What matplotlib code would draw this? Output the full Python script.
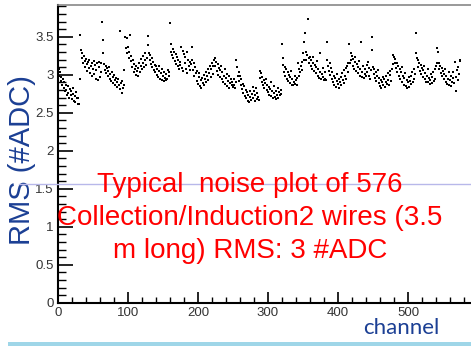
import numpy as np
import matplotlib
matplotlib.use('Agg')
import matplotlib.pyplot as plt
from matplotlib.ticker import MultipleLocator, FuncFormatter

# RMS noise per channel in groups of 32 channels
rms_g00 = [3.24, 3.08, 2.98, 3.04, 2.92, 2.97, 2.86, 2.95, 2.82, 2.90, 2.78, 2.87, 2.80, 2.74, 2.85, 2.76,
           2.70, 2.81, 2.73, 2.78, 2.68, 2.75, 2.82, 2.66, 2.72, 2.64, 2.77, 2.69, 2.62, 2.70, 2.61, 2.95]
rms_g01 = [3.52, 3.32, 3.22, 3.28, 3.15, 3.25, 3.18, 3.10, 3.21, 3.14, 3.05, 3.17, 3.09, 3.19, 3.02, 3.12,
           3.16, 2.98, 3.08, 3.18, 3.01, 3.13, 2.95, 3.06, 3.15, 2.93, 3.10, 3.17, 2.97, 3.04, 3.16, 3.69]
rms_g02 = [3.46, 3.28, 3.14, 3.06, 3.12, 3.02, 3.09, 2.98, 3.05, 3.10, 2.95, 3.01, 2.92, 3.04, 2.97, 2.89,
           3.00, 2.93, 2.86, 2.96, 2.90, 2.84, 2.94, 2.87, 2.81, 3.57, 2.89, 2.76, 2.92, 2.83, 2.86, 3.06]
rms_g03 = [3.50, 3.35, 3.48, 3.28, 3.36, 3.22, 3.30, 3.52, 3.18, 3.25, 3.10, 3.20, 3.04, 3.14, 3.08, 3.00,
           3.12, 3.05, 2.98, 3.09, 3.16, 3.03, 3.11, 3.21, 3.07, 3.15, 3.25, 3.10, 3.19, 3.28, 3.13, 3.22]
rms_g04 = [3.51, 3.39, 3.28, 3.20, 3.26, 3.14, 3.22, 3.10, 3.17, 3.06, 3.13, 3.03, 3.11, 3.00, 3.08, 2.97,
           3.05, 3.12, 2.95, 3.02, 2.93, 3.07, 2.98, 2.92, 3.04, 2.96, 2.93, 3.01, 2.95, 3.06, 2.99, 3.03]
rms_g05 = [3.68, 3.30, 3.41, 3.26, 3.34, 3.22, 3.30, 3.18, 3.27, 3.14, 3.24, 3.11, 3.20, 3.08, 3.17, 3.13,
           3.36, 3.09, 3.31, 3.05, 3.27, 3.15, 3.23, 3.08, 3.30, 3.02, 3.20, 3.12, 3.17, 3.06, 3.14, 3.36]
rms_g06 = [3.20, 3.06, 3.15, 2.98, 3.10, 3.02, 2.92, 3.05, 2.88, 2.97, 3.02, 2.85, 2.93, 2.82, 2.96, 2.89,
           3.00, 2.86, 2.94, 3.04, 2.90, 2.98, 3.08, 2.93, 3.02, 3.12, 2.97, 3.07, 3.16, 3.01, 3.11, 3.20]
rms_g07 = [3.22, 3.12, 3.17, 3.05, 3.14, 3.00, 3.09, 2.97, 3.06, 3.11, 2.94, 3.03, 2.91, 2.99, 3.07, 2.88,
           2.96, 2.85, 3.01, 2.92, 2.83, 2.98, 2.89, 2.94, 2.86, 2.91, 2.84, 2.95, 2.87, 2.82, 2.90, 3.19]
rms_g08 = [3.10, 2.98, 3.04, 2.92, 2.99, 2.86, 2.94, 2.81, 2.88, 2.76, 2.85, 2.72, 2.80, 2.69, 2.77, 2.66,
           2.73, 2.64, 2.71, 2.79, 2.67, 2.75, 2.84, 2.70, 2.78, 2.65, 2.74, 2.82, 2.68, 2.76, 2.71, 2.67]
rms_g09 = [3.05, 2.96, 3.02, 2.91, 2.97, 2.86, 2.93, 2.83, 2.89, 2.95, 2.80, 2.87, 2.77, 2.84, 2.74, 2.81,
           2.90, 2.72, 2.79, 2.69, 2.76, 2.85, 2.71, 2.78, 2.68, 2.74, 2.82, 2.70, 2.77, 2.73, 2.80, 2.75]
rms_g10 = [3.41, 3.22, 3.13, 3.04, 3.10, 2.99, 3.07, 2.95, 3.03, 2.92, 3.00, 2.89, 2.97, 3.05, 2.87, 2.94,
           2.86, 2.91, 2.98, 2.88, 2.93, 2.86, 2.96, 3.15, 2.99, 3.07, 3.03, 3.12, 3.06, 3.17, 3.28, 3.20]
rms_g11 = [3.43, 3.55, 3.30, 3.19, 3.26, 3.74, 3.22, 3.15, 3.24, 3.11, 3.19, 3.08, 3.16, 3.23, 3.05, 3.13,
           3.02, 3.10, 3.18, 2.99, 3.07, 2.96, 3.28, 3.04, 2.94, 3.01, 3.09, 2.97, 2.93, 3.03, 2.95, 2.93]
rms_g12 = [3.20, 3.43, 3.12, 3.05, 3.15, 3.00, 3.09, 2.95, 3.04, 2.90, 2.99, 2.86, 2.96, 2.84, 2.92, 3.01,
           2.88, 2.94, 2.83, 2.91, 2.97, 2.87, 3.02, 2.93, 3.06, 2.89, 2.98, 3.09, 2.95, 3.12, 3.03, 3.15]
rms_g13 = [3.41, 3.15, 3.28, 3.19, 3.25, 3.12, 3.21, 3.08, 3.17, 3.24, 3.05, 3.14, 3.02, 3.10, 3.18, 2.99,
           3.07, 3.43, 2.97, 3.04, 3.11, 2.96, 3.01, 3.08, 2.98, 3.13, 3.03, 3.17, 2.99, 3.09, 2.95, 3.06]
rms_g14 = [3.50, 3.33, 3.10, 3.01, 3.07, 2.96, 3.04, 2.92, 2.99, 3.06, 2.89, 2.96, 2.85, 2.93, 2.83, 2.90,
           2.97, 2.86, 2.94, 2.84, 2.91, 2.99, 2.88, 3.02, 2.93, 2.87, 3.00, 3.05, 2.92, 3.08, 3.26, 3.14]
rms_g15 = [3.23, 3.16, 3.21, 3.09, 3.15, 3.04, 3.11, 2.99, 3.07, 2.95, 3.03, 3.10, 2.91, 2.99, 2.87, 2.96,
           3.02, 2.85, 2.93, 2.82, 2.90, 2.97, 2.84, 2.92, 2.88, 2.98, 3.04, 2.91, 3.08, 2.95, 3.01, 3.55]
rms_g16 = [3.28, 3.22, 3.19, 3.10, 3.16, 3.05, 3.13, 3.01, 3.09, 2.97, 3.06, 3.12, 2.94, 3.02, 2.91, 2.99,
           3.07, 2.90, 2.96, 2.88, 2.93, 3.01, 2.89, 2.97, 3.04, 2.92, 3.08, 2.95, 3.11, 3.15, 3.35, 3.30]
rms_g17 = [3.15, 3.07, 3.12, 3.02, 3.09, 2.98, 3.05, 2.94, 3.01, 3.08, 2.91, 2.98, 2.88, 2.95, 3.03, 2.87,
           2.93, 2.85, 2.99, 2.90, 2.96, 3.04, 2.89, 3.17, 2.97, 2.79, 3.06, 2.93, 3.10, 3.01, 3.20, 3.18]

groups = [rms_g00, rms_g01, rms_g02, rms_g03, rms_g04, rms_g05, rms_g06, rms_g07, rms_g08,
          rms_g09, rms_g10, rms_g11, rms_g12, rms_g13, rms_g14, rms_g15, rms_g16, rms_g17]
rms = np.concatenate(groups)
channel = np.arange(len(rms))

y_ticks = [0, 0.5, 1, 1.5, 2, 2.5, 3, 3.5]
x_ticks = [0, 100, 200, 300, 400, 500]

note = ("Typical  noise plot of 576\n"
        "Collection/Induction2 wires (3.5\n"
        "m long) RMS: 3 #ADC")

plt.rcParams['font.family'] = ['Liberation Sans', 'DejaVu Sans']

fig = plt.figure(figsize=(4.71, 3.46), dpi=100)
ax = fig.add_axes([0.123, 0.125, 0.877, 0.861])

ax.plot(channel, rms, 's', color='black', markersize=2.0, markeredgewidth=0)

ax.set_xlim(0, 590)
ax.set_ylim(0, 3.92)
ax.set_yticks(y_ticks)
ax.set_xticks(x_ticks)
ax.yaxis.set_minor_locator(MultipleLocator(0.1))
ax.xaxis.set_minor_locator(MultipleLocator(20))
ax.yaxis.set_major_formatter(FuncFormatter(lambda v, p: f'{v:g}'))

ax.tick_params(which='both', direction='in', colors='black', labelcolor='#333333',
               labelsize=9.5, top=False, right=False)
ax.tick_params(axis='y', which='major', length=11, width=1.2, pad=3)
ax.tick_params(axis='y', which='minor', length=5.5, width=1.0)
ax.tick_params(axis='x', which='major', length=8, width=1.2, pad=3)
ax.tick_params(axis='x', which='minor', length=4, width=1.0)

ax.spines['left'].set_linewidth(1.5)
ax.spines['bottom'].set_linewidth(1.5)
ax.spines['top'].set_color('#888888')
ax.spines['top'].set_linewidth(1.2)
ax.spines['right'].set_visible(False)

# slide decorations around the plot
fig.add_artist(plt.Line2D([0.04, 1.0], [1 - 183.5 / 346] * 2, color='#b8b8ea', lw=1.0, zorder=5))
fig.add_artist(plt.Rectangle((0.017, 0), 0.983, 4.5 / 346, color='#9fd6e8', lw=0))

fig.text(0.047, 1 - 160 / 346, 'RMS (#ADC)', rotation=90, ha='center', va='center',
         fontsize=21, color='#1b3f94')
fig.text(0.531, 1 - 218 / 346, note, ha='center', va='center', fontsize=20,
         color='#ff0000', linespacing=1.36, zorder=6)
fig.text(0.852, 1 - 328 / 346, 'channel', ha='center', va='center', fontsize=16,
         color='#1b3f94', family=['Lato', 'DejaVu Sans'])

fig.savefig('out.png', dpi=100)
